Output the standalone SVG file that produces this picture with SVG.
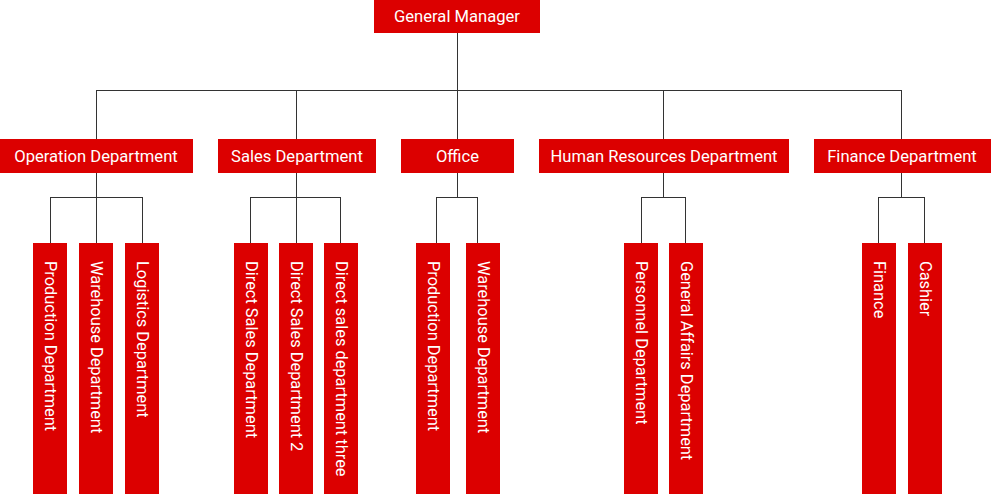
<svg xmlns="http://www.w3.org/2000/svg" width="991" height="494" viewBox="0 0 991 494">
<style>
.box{fill:#dc0000}
.t{fill:#ffffff;font-family:Roboto,"Noto Sans","Liberation Sans",sans-serif;font-size:16.6px;text-anchor:middle;dominant-baseline:central}
.v{fill:#ffffff;font-family:Roboto,"Noto Sans","Liberation Sans",sans-serif;font-size:16.4px;text-anchor:start;dominant-baseline:central}
.ln{fill:none;stroke:#333333;stroke-width:1}
</style>
<rect width="991" height="494" fill="#ffffff"/>
<g id="connectors" class="ln">
<path d="M457.5 33V139"/>
<path d="M96.5 90.5H901.5M96.5 90V139M296.5 90V139M663.5 90V139M901.5 90V139"/>
<path d="M96.5 173V243M50.5 197.5H142.5M50.5 197V243M142.5 197V243"/>
<path d="M296.5 173V243M250.5 197.5H340.5M250.5 197V243M340.5 197V243"/>
<path d="M457.5 173V197.5M436.5 197.5H477.5M436.5 197V243M477.5 197V243"/>
<path d="M663.5 173V197.5M641.5 197.5H685.5M641.5 197V243M685.5 197V243"/>
<path d="M901.5 173V197.5M878.5 197.5H924.5M878.5 197V243M924.5 197V243"/>
</g>
<g id="gm"><rect class="box" x="374" y="0" width="166" height="33"/><text class="t" x="457" y="16">General Manager</text></g>
<g id="operation"><rect class="box" x="0" y="139" width="193" height="34"/><text class="t" x="96" y="156">Operation Department</text></g>
<g id="sales"><rect class="box" x="218" y="139" width="158" height="34"/><text class="t" x="297" y="156">Sales Department</text></g>
<g id="office"><rect class="box" x="401" y="139" width="113" height="34"/><text class="t" x="457.5" y="156">Office</text></g>
<g id="hr"><rect class="box" x="539" y="139" width="250" height="34"/><text class="t" x="664" y="156">Human Resources Department</text></g>
<g id="finance"><rect class="box" x="814" y="139" width="177" height="34"/><text class="t" x="902" y="156">Finance Department</text></g>

<g id="op-production"><rect class="box" x="33" y="243" width="34" height="251"/><text class="v" transform="translate(50 261) rotate(90)">Production Department</text></g>
<g id="op-warehouse"><rect class="box" x="79" y="243" width="34" height="251"/><text class="v" transform="translate(96 261) rotate(90)">Warehouse Department</text></g>
<g id="op-logistics"><rect class="box" x="125" y="243" width="34" height="251"/><text class="v" transform="translate(142 261) rotate(90)">Logistics Department</text></g>

<g id="sales-direct1"><rect class="box" x="234" y="243" width="34" height="251"/><text class="v" transform="translate(251 261) rotate(90)">Direct Sales Department</text></g>
<g id="sales-direct2"><rect class="box" x="279" y="243" width="34" height="251"/><text class="v" transform="translate(296 261) rotate(90)">Direct Sales Department 2</text></g>
<g id="sales-direct3"><rect class="box" x="324" y="243" width="34" height="251"/><text class="v" transform="translate(341 261) rotate(90)">Direct sales department three</text></g>

<g id="office-production"><rect class="box" x="416" y="243" width="34" height="251"/><text class="v" transform="translate(433 261) rotate(90)">Production Department</text></g>
<g id="office-warehouse"><rect class="box" x="466" y="243" width="34" height="251"/><text class="v" transform="translate(483 261) rotate(90)">Warehouse Department</text></g>

<g id="hr-personnel"><rect class="box" x="624" y="243" width="34" height="251"/><text class="v" transform="translate(641 261) rotate(90)">Personnel Department</text></g>
<g id="hr-general"><rect class="box" x="669" y="243" width="34" height="251"/><text class="v" transform="translate(686 261) rotate(90)">General Affairs Department</text></g>

<g id="fin-finance"><rect class="box" x="862" y="243" width="34" height="251"/><text class="v" transform="translate(879 261) rotate(90)">Finance</text></g>
<g id="fin-cashier"><rect class="box" x="908" y="243" width="34" height="251"/><text class="v" transform="translate(925 261) rotate(90)">Cashier</text></g>
</svg>
